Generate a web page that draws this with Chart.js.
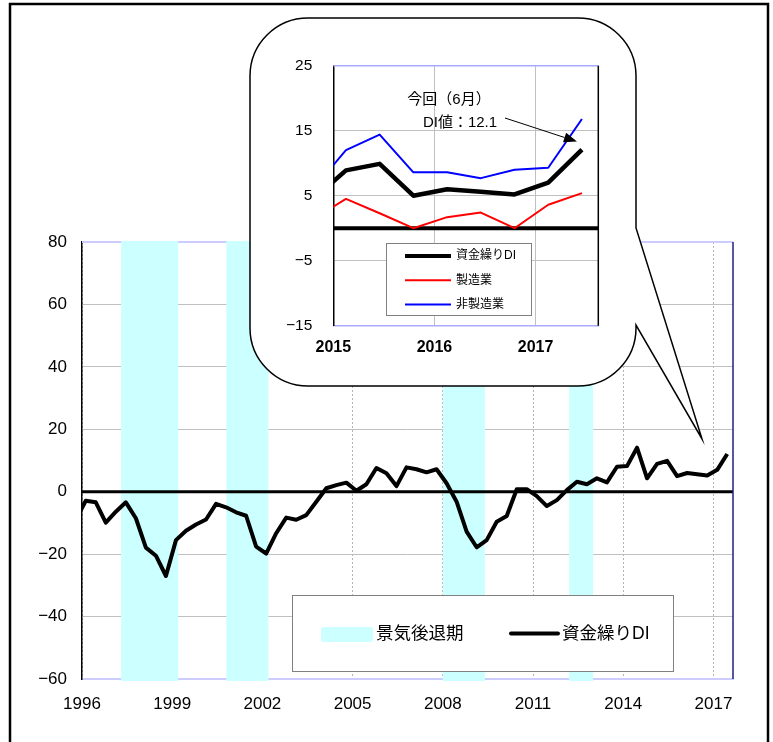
<!DOCTYPE html>
<html>
<head>
<meta charset="utf-8">
<script src="https://cdn.jsdelivr.net/npm/chart.js@4.4.1/dist/chart.umd.min.js"></script>
<style>
  html, body { margin: 0; padding: 0; background: #fff; }
  #wrap { position: relative; width: 773px; height: 742px; overflow: hidden; }
  #main { position: absolute; left: 0; top: 0; }
  #inset { position: absolute; left: 252px; top: 20px; }
</style>
</head>
<body>
<div id="wrap">
  <canvas id="main" width="773" height="742"></canvas>
  <canvas id="inset" width="380" height="360"></canvas>
</div>
<script>
const FONT = "'Liberation Sans', 'Noto Sans CJK JP', sans-serif";

// survey months: Feb / Jun / Oct
const periods = [
  "1995-10",
  "1996-02", "1996-06", "1996-10", "1997-02", "1997-06", "1997-10",
  "1998-02", "1998-06", "1998-10", "1999-02", "1999-06", "1999-10",
  "2000-02", "2000-06", "2000-10", "2001-02", "2001-06", "2001-10",
  "2002-02", "2002-06", "2002-10", "2003-02", "2003-06", "2003-10",
  "2004-02", "2004-06", "2004-10", "2005-02", "2005-06", "2005-10",
  "2006-02", "2006-06", "2006-10", "2007-02", "2007-06", "2007-10",
  "2008-02", "2008-06", "2008-10", "2009-02", "2009-06", "2009-10",
  "2010-02", "2010-06", "2010-10", "2011-02", "2011-06", "2011-10",
  "2012-02", "2012-06", "2012-10", "2013-02", "2013-06", "2013-10",
  "2014-02", "2014-06", "2014-10", "2015-02", "2015-06", "2015-10",
  "2016-02", "2016-06", "2016-10", "2017-02", "2017-06"
];

// 資金繰りDI
const diValues = [
  -9.0,
  -2.9, -3.4, -9.9, -6.4, -3.4, -8.5,
  -17.9, -20.5, -27.0, -15.5, -12.5, -10.5,
  -8.9, -3.9, -5.0, -6.6, -7.7, -17.6,
  -19.8, -13.3, -8.3, -9.0, -7.5, -3.2,
  1.1, 2.1, 2.9, 0.3, 2.4, 7.6,
  5.9, 1.8, 7.8, 7.2, 6.2, 7.2,
  2.7, -3.2, -12.8, -17.8, -15.5, -9.6,
  -7.8, 0.8, 0.8, -1.4, -4.6, -2.7,
  0.5, 3.2, 2.4, 4.3, 3.0, 8.0,
  8.2, 14.1, 4.3, 8.9, 9.9, 5.0,
  6.0, 5.6, 5.2, 7.0, 12.1
];

// 景気後退期 (decimal years)
const recessions = [[1997.3, 1999.2], [2000.8, 2002.2], [2008.0, 2009.4], [2012.2, 2013.0]];
const mainXTicks = [1996, 1999, 2002, 2005, 2008, 2011, 2014, 2017];

// inset: last nine surveys
const insetPeriods = periods.slice(-9);
const insetDI = diValues.slice(-9);
const insetMfg = [1.3, 4.5, 2.3, 0.0, 1.7, 2.4, 0.0, 3.6, 5.4];
const insetNonMfg = [5.9, 12.0, 14.4, 8.6, 8.6, 7.7, 9.0, 9.3, 16.8];
const insetXTicks = [2015, 2016, 2017];

// where the speech bubble tail points (data units of the main chart)
const calloutTip = [2016.62, 16.9];

function toYear(p) {
  const [y, m] = p.split("-").map(Number);
  return y + (m - 0.5) / 12;
}
function minus(v) {
  return String(v).replace("-", "\u2212");
}
function points(ps, vs) {
  return ps.map((p, i) => ({ x: toYear(p), y: vs[i] }));
}

const mainDecor = {
  id: "mainDecor",
  beforeDatasetsDraw(chart) {
    const { ctx, chartArea: a, scales: { x, y } } = chart;
    ctx.save();
    // top border
    ctx.strokeStyle = "#ccccff";
    ctx.lineWidth = 2;
    ctx.beginPath(); ctx.moveTo(a.left, a.top); ctx.lineTo(a.right, a.top); ctx.stroke();
    // recession bands
    ctx.fillStyle = "#ccffff";
    recessions.forEach(([s, e]) => {
      const x0 = x.getPixelForValue(s), x1 = x.getPixelForValue(e);
      ctx.fillRect(x0, a.top - 1, x1 - x0, a.bottom - a.top + 3);
    });
    // zero line
    const y0 = y.getPixelForValue(0);
    ctx.strokeStyle = "#000";
    ctx.lineWidth = 3;
    ctx.beginPath(); ctx.moveTo(a.left, y0); ctx.lineTo(a.right, y0); ctx.stroke();
    ctx.restore();
  },
  afterDraw(chart) {
    const { ctx, chartArea: a, scales: { x, y } } = chart;
    ctx.save();
    // right border
    ctx.strokeStyle = "#202080";
    ctx.lineWidth = 1.5;
    ctx.beginPath(); ctx.moveTo(a.right, a.top); ctx.lineTo(a.right, a.bottom); ctx.stroke();

    // outer frame
    ctx.strokeStyle = "#000";
    ctx.lineWidth = 2.5;
    ctx.strokeRect(10, 4, 758, 780);

    // speech bubble
    const L = 250, T = 18, R = 636, B = 386, r = 58;
    const tx = x.getPixelForValue(calloutTip[0]), ty = y.getPixelForValue(calloutTip[1]);
    ctx.beginPath();
    ctx.moveTo(L + r, T);
    ctx.lineTo(R - r, T);
    ctx.arcTo(R, T, R, T + r, r);
    ctx.lineTo(R, 228);
    ctx.lineTo(tx, ty);
    ctx.lineTo(R, 325);
    ctx.lineTo(R, B - r);
    ctx.arcTo(R, B, R - r, B, r);
    ctx.lineTo(L + r, B);
    ctx.arcTo(L, B, L, B - r, r);
    ctx.lineTo(L, T + r);
    ctx.arcTo(L, T, L + r, T, r);
    ctx.closePath();
    ctx.fillStyle = "#fff";
    ctx.fill();
    ctx.strokeStyle = "#000";
    ctx.lineWidth = 1.5;
    ctx.stroke();

    // legend
    ctx.fillStyle = "#fff";
    ctx.fillRect(292, 595, 382, 77);
    ctx.strokeStyle = "#808080";
    ctx.lineWidth = 1;
    ctx.strokeRect(292.5, 595.5, 381, 76);
    ctx.fillStyle = "#ccffff";
    ctx.beginPath();
    ctx.roundRect(321, 627, 52, 15, 3);
    ctx.fill();
    ctx.strokeStyle = "#000";
    ctx.lineWidth = 4;
    ctx.lineCap = "round";
    ctx.beginPath(); ctx.moveTo(511, 633.5); ctx.lineTo(558, 633.5); ctx.stroke();
    ctx.fillStyle = "#000";
    ctx.font = "17.5px " + FONT;
    ctx.textBaseline = "middle";
    ctx.textAlign = "left";
    ctx.fillText("景気後退期", 376, 634);
    ctx.fillText("資金繰りDI", 562, 634);
    ctx.restore();
  }
};

new Chart(document.getElementById("main"), {
  type: "line",
  data: {
    datasets: [{
      label: "資金繰りDI",
      data: points(periods, diValues),
      borderColor: "#000",
      borderWidth: 4,
      borderJoinStyle: "round",
      pointRadius: 0,
      tension: 0,
      clip: 0
    }]
  },
  options: {
    responsive: false,
    animation: false,
    layout: { padding: { left: 0, top: 242, right: 40, bottom: 0 } },
    plugins: { legend: { display: false }, tooltip: { enabled: false } },
    scales: {
      x: {
        type: "linear",
        min: 1996,
        max: 2017.65,
        afterBuildTicks: (s) => { s.ticks = mainXTicks.map((v) => ({ value: v })); },
        afterFit: (s) => { s.height = 63; },
        ticks: {
          callback: (v) => String(v),
          font: { family: FONT, size: 17 },
          color: "#000",
          padding: 15,
          maxRotation: 0,
          autoSkip: false
        },
        grid: { color: "#b4b4b4", lineWidth: 1, drawTicks: false },
        border: { color: "#ccccff", width: 2, dash: [2, 2] }
      },
      y: {
        min: -60,
        max: 80,
        afterFit: (s) => { s.width = 82; },
        ticks: {
          stepSize: 20,
          callback: (v) => minus(v),
          font: { family: FONT, size: 17 },
          color: "#000",
          padding: 15
        },
        grid: {
          color: (c) => (c.tick && c.tick.value === 0 ? "rgba(0,0,0,0)" : "#c0c0c0"),
          lineWidth: 1,
          drawTicks: false
        },
        border: { color: "#000", width: 1.5 }
      }
    }
  },
  plugins: [mainDecor]
});

const insetDecor = {
  id: "insetDecor",
  beforeDatasetsDraw(chart) {
    const { ctx, chartArea: a, scales: { y } } = chart;
    const y0 = y.getPixelForValue(0);
    ctx.save();
    ctx.strokeStyle = "#000";
    ctx.lineWidth = 4;
    ctx.beginPath(); ctx.moveTo(a.left, y0); ctx.lineTo(a.right, y0); ctx.stroke();
    ctx.restore();
  },
  afterDraw(chart) {
    const { ctx, chartArea: a, scales: { x, y } } = chart;
    ctx.save();
    // top and right borders
    ctx.strokeStyle = "#aaaaff";
    ctx.lineWidth = 1.5;
    ctx.beginPath(); ctx.moveTo(a.left, a.top); ctx.lineTo(a.right, a.top); ctx.stroke();
    ctx.strokeStyle = "#000";
    ctx.beginPath(); ctx.moveTo(a.right, a.top); ctx.lineTo(a.right, a.bottom); ctx.stroke();

    // annotation
    ctx.fillStyle = "#000";
    ctx.font = "15px " + FONT;
    ctx.textAlign = "center";
    ctx.textBaseline = "middle";
    ctx.fillText("今回（6月）", 197, 80);
    ctx.fillText("DI値：12.1", 208, 103);

    // arrow to the latest DI point
    const last = insetPeriods.length - 1;
    const px = x.getPixelForValue(toYear(insetPeriods[last])) - 5;
    const py = y.getPixelForValue(insetDI[last]) - 8;
    const sx = 253, sy = 98;
    const ang = Math.atan2(py - sy, px - sx);
    const hl = 13, hw = 5;
    const bx = px - hl * Math.cos(ang), by = py - hl * Math.sin(ang);
    ctx.strokeStyle = "#000";
    ctx.lineWidth = 1;
    ctx.beginPath(); ctx.moveTo(sx, sy); ctx.lineTo(bx, by); ctx.stroke();
    ctx.beginPath();
    ctx.moveTo(px, py);
    ctx.lineTo(bx + hw * Math.sin(ang), by - hw * Math.cos(ang));
    ctx.lineTo(bx - hw * Math.sin(ang), by + hw * Math.cos(ang));
    ctx.closePath();
    ctx.fill();

    // legend
    ctx.fillStyle = "#fff";
    ctx.fillRect(134, 223, 146, 73);
    ctx.strokeStyle = "#808080";
    ctx.lineWidth = 1;
    ctx.strokeRect(134.5, 223.5, 145, 72);
    const rows = [
      ["資金繰りDI", "#000", 4],
      ["製造業", "#ff0000", 2],
      ["非製造業", "#0000ff", 2]
    ];
    ctx.font = "12px " + FONT;
    ctx.textAlign = "left";
    rows.forEach(([label, col, w], i) => {
      const ry = 236 + i * 24.3;
      ctx.strokeStyle = col;
      ctx.lineWidth = w;
      ctx.beginPath(); ctx.moveTo(153, ry); ctx.lineTo(199, ry); ctx.stroke();
      ctx.fillStyle = "#000";
      ctx.fillText(label, 204, ry);
    });
    ctx.restore();
  }
};

new Chart(document.getElementById("inset"), {
  type: "line",
  data: {
    datasets: [
      { label: "資金繰りDI", data: points(insetPeriods, insetDI), borderColor: "#000", borderWidth: 4.5 },
      { label: "製造業", data: points(insetPeriods, insetMfg), borderColor: "#ff0000", borderWidth: 2 },
      { label: "非製造業", data: points(insetPeriods, insetNonMfg), borderColor: "#0000ff", borderWidth: 2 }
    ]
  },
  options: {
    responsive: false,
    animation: false,
    elements: { point: { radius: 0 }, line: { tension: 0, borderJoinStyle: "round" } },
    datasets: { line: { clip: 0 } },
    layout: { padding: { left: 0, top: 45.7, right: 33.7, bottom: 0 } },
    plugins: { legend: { display: false }, tooltip: { enabled: false } },
    scales: {
      x: {
        type: "linear",
        min: 2015,
        max: 2017.62,
        afterBuildTicks: (s) => { s.ticks = insetXTicks.map((v) => ({ value: v })); },
        afterFit: (s) => { s.height = 54.3; },
        ticks: {
          callback: (v) => String(v),
          font: { family: FONT, size: 16, weight: "bold" },
          color: "#000",
          padding: 12,
          maxRotation: 0,
          autoSkip: false
        },
        grid: { color: "#c0c0c0", lineWidth: 1, drawTicks: false },
        border: { color: "#aaaaff", width: 1.5 }
      },
      y: {
        min: -15,
        max: 25,
        afterFit: (s) => { s.width = 81.3; },
        ticks: {
          stepSize: 10,
          callback: (v) => minus(v),
          font: { family: FONT, size: 15.5 },
          color: "#000",
          padding: 21
        },
        grid: {
          color: (c) => (c.tick && c.tick.value === 0 ? "rgba(0,0,0,0)" : "#c0c0c0"),
          lineWidth: 1,
          drawTicks: false
        },
        border: { color: "#000", width: 1.5 }
      }
    }
  },
  plugins: [insetDecor]
});
</script>
</body>
</html>
